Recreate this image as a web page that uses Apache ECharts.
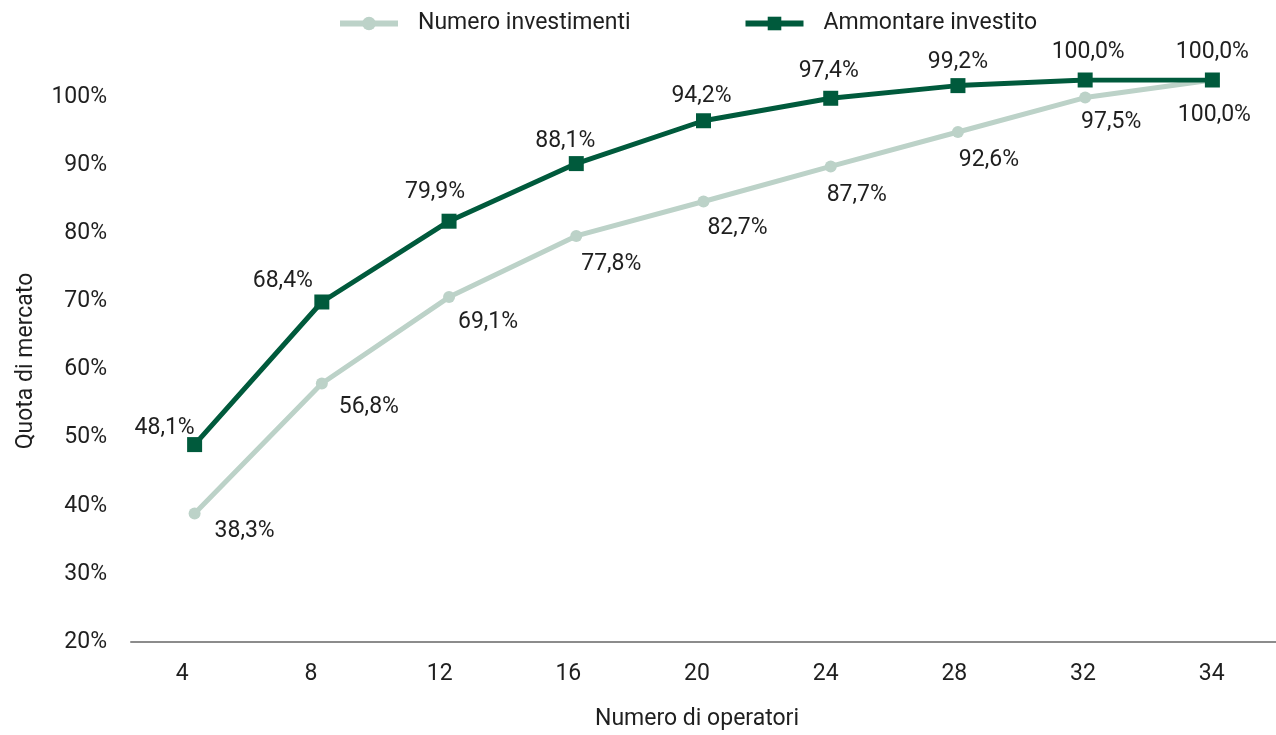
<!DOCTYPE html>
<html>
<head>
<meta charset="utf-8">
<script src="https://cdn.jsdelivr.net/npm/echarts@6/dist/echarts.min.js"></script>
<style>
  html, body { margin: 0; padding: 0; background: #ffffff; }
  #chart { width: 1276px; height: 735px; }
</style>
</head>
<body>
<div id="chart"></div>
<script>
// Operator counts and cumulative market shares (%)
const operatori = ['4', '8', '12', '16', '20', '24', '28', '32', '34'];
const numeroInvestimenti = [38.3, 56.8, 69.1, 77.8, 82.7, 87.7, 92.6, 97.5, 100.0];
const ammontareInvestito = [48.1, 68.4, 79.9, 88.1, 94.2, 97.4, 99.2, 100.0, 100.0];
const yTicks = [20, 30, 40, 50, 60, 70, 80, 90, 100];

// Label placement (pixel offsets from each point's centre)
const offsetsInvestimenti = [[50, 18], [47, 24], [39, 25], [35, 28], [34, 27], [26, 29], [31, 28], [26, 25], [2, 35]];
const offsetsAmmontare = [[-30, -16], [-39, -21], [-14, -29], [-11, -22], [-2, -24], [-2, -27], [0, -23], [3, -28], [0, -28]];

const FONT = 'Roboto, "Noto Sans", sans-serif';
const TEXT = '#1f1f1f';
const DARK = '#005a3c';
const LIGHT = '#bcd2c8';

const fmt = v => v.toFixed(1).replace('.', ',') + '%';

function points(values, offsets) {
  return values.map((v, i) => ({
    value: v,
    label: { offset: offsets[i] }
  }));
}

const chart = echarts.init(document.getElementById('chart'), null, { renderer: 'canvas' });

chart.setOption({
  animation: false,
  textStyle: { fontFamily: FONT },
  legend: {
    left: 332,
    top: 7,
    itemWidth: 58,
    itemHeight: 17,
    itemGap: 112,
    lineStyle: { width: 6 },
    textStyle: { fontFamily: FONT, fontSize: 23, color: TEXT, padding: [0, 0, 0, 15] },
    data: ['Numero investimenti', 'Ammontare investito']
  },
  grid: [
    { left: 131, right: 0, top: 80, bottom: 93, containLabel: false, outerBoundsMode: 'none' },
    { left: 118, right: 0, top: 80, bottom: 93, containLabel: false, outerBoundsMode: 'none' }
  ],
  xAxis: [
    {
      type: 'category',
      gridIndex: 0,
      data: operatori,
      boundaryGap: true,
      axisLine: { show: true, lineStyle: { color: '#8c8c8c', width: 2 } },
      axisTick: { show: false },
      axisLabel: { show: false },
      splitLine: { show: false }
    },
    {
      type: 'category',
      gridIndex: 1,
      data: operatori,
      boundaryGap: true,
      axisLine: { show: false },
      axisTick: { show: false },
      axisLabel: { fontFamily: FONT, fontSize: 23, color: TEXT, margin: 21 },
      splitLine: { show: false },
      name: 'Numero di operatori',
      nameLocation: 'middle',
      nameGap: 66,
      nameTextStyle: { fontFamily: FONT, fontSize: 23, color: TEXT }
    }
  ],
  yAxis: [
    {
      type: 'value',
      gridIndex: 0,
      min: 20,
      max: 100,
      show: false
    },
    {
      type: 'value',
      gridIndex: 0,
      position: 'left',
      offset: 0,
      min: 20,
      max: 102.5,
      interval: 10,
      axisLine: { show: false },
      axisTick: { show: false },
      splitLine: { show: false },
      axisLabel: {
        fontFamily: FONT,
        fontSize: 23,
        color: TEXT,
        margin: 24,
        formatter: v => (yTicks.indexOf(v) >= 0 ? v + '%' : '')
      },
      name: 'Quota di mercato',
      nameLocation: 'middle',
      nameGap: 93,
      nameRotate: 90,
      nameTextStyle: { fontFamily: FONT, fontSize: 23, color: TEXT }
    },
    {
      type: 'value',
      gridIndex: 1,
      min: 20,
      max: 100,
      show: false
    }
  ],
  series: [
    {
      name: 'Numero investimenti',
      type: 'line',
      xAxisIndex: 0,
      yAxisIndex: 0,
      data: points(numeroInvestimenti, offsetsInvestimenti),
      symbol: 'circle',
      symbolSize: 12,
      lineStyle: { color: LIGHT, width: 5 },
      itemStyle: { color: LIGHT },
      label: {
        show: true,
        position: 'inside',
        fontFamily: FONT,
        fontSize: 23,
        color: TEXT,
        formatter: p => fmt(p.value)
      },
      z: 2
    },
    {
      name: 'Ammontare investito',
      type: 'line',
      xAxisIndex: 0,
      yAxisIndex: 0,
      data: points(ammontareInvestito, offsetsAmmontare),
      symbol: 'rect',
      symbolSize: 15,
      lineStyle: { color: DARK, width: 5 },
      itemStyle: { color: DARK },
      label: {
        show: true,
        position: 'inside',
        fontFamily: FONT,
        fontSize: 23,
        color: TEXT,
        formatter: p => fmt(p.value)
      },
      z: 3
    }
  ]
});
</script>
</body>
</html>
